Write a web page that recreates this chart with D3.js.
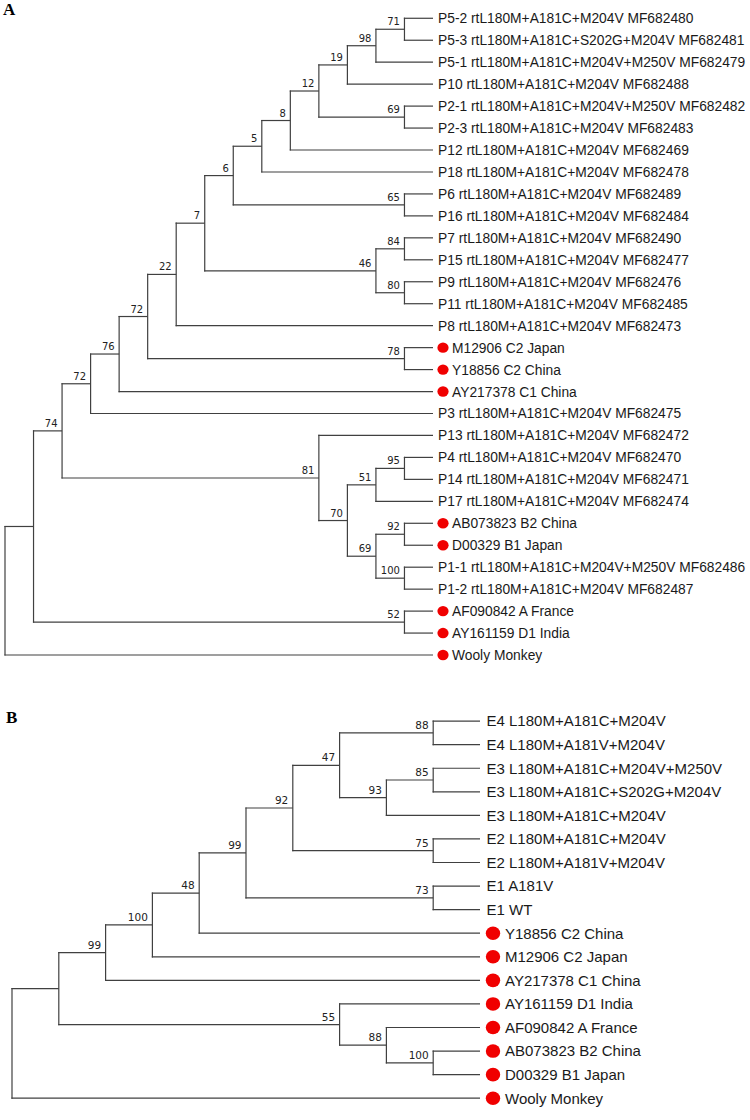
<!DOCTYPE html>
<html>
<head>
<meta charset="utf-8">
<script src="https://cdn.jsdelivr.net/npm/d3@7"></script>
<style>
html,body{margin:0;padding:0;background:#fff;}
svg{display:block;}
</style>
</head>
<body>
<svg id="chart" width="750" height="1120"></svg>
<script>
// ---------- Tree A data ----------
const leavesA = [
  "P5-2 rtL180M+A181C+M204V MF682480",
  "P5-3 rtL180M+A181C+S202G+M204V MF682481",
  "P5-1 rtL180M+A181C+M204V+M250V MF682479",
  "P10 rtL180M+A181C+M204V MF682488",
  "P2-1 rtL180M+A181C+M204V+M250V MF682482",
  "P2-3 rtL180M+A181C+M204V MF682483",
  "P12 rtL180M+A181C+M204V MF682469",
  "P18 rtL180M+A181C+M204V MF682478",
  "P6 rtL180M+A181C+M204V MF682489",
  "P16 rtL180M+A181C+M204V MF682484",
  "P7 rtL180M+A181C+M204V MF682490",
  "P15 rtL180M+A181C+M204V MF682477",
  "P9 rtL180M+A181C+M204V MF682476",
  "P11 rtL180M+A181C+M204V MF682485",
  "P8 rtL180M+A181C+M204V MF682473",
  "M12906 C2 Japan",
  "Y18856 C2 China",
  "AY217378 C1 China",
  "P3 rtL180M+A181C+M204V MF682475",
  "P13 rtL180M+A181C+M204V MF682472",
  "P4 rtL180M+A181C+M204V MF682470",
  "P14 rtL180M+A181C+M204V MF682471",
  "P17 rtL180M+A181C+M204V MF682474",
  "AB073823 B2 China",
  "D00329 B1 Japan",
  "P1-1 rtL180M+A181C+M204V+M250V MF682486",
  "P1-2 rtL180M+A181C+M204V MF682487",
  "AF090842 A France",
  "AY161159 D1 India",
  "Wooly Monkey"
];
// reference genotypes marked with a red dot
const refsA = [15, 16, 17, 23, 24, 27, 28, 29];
// topology (leaf indices) with bootstrap support values
const newickA = "(((((((((((((((0,1)71,2)98,3)19,(4,5)69)12,6)8,7)5,(8,9)65)6,((10,11)84,(12,13)80)46)7,14)22,(15,16)78)72,17)76,18)72,(19,(((20,21)95,22)51,((23,24)92,(25,26)100)69)70)81)74,(27,28)52),29)";

// ---------- Tree B data ----------
const leavesB = [
  "E4 L180M+A181C+M204V",
  "E4 L180M+A181V+M204V",
  "E3 L180M+A181C+M204V+M250V",
  "E3 L180M+A181C+S202G+M204V",
  "E3 L180M+A181C+M204V",
  "E2 L180M+A181C+M204V",
  "E2 L180M+A181V+M204V",
  "E1 A181V",
  "E1 WT",
  "Y18856 C2 China",
  "M12906 C2 Japan",
  "AY217378 C1 China",
  "AY161159 D1 India",
  "AF090842 A France",
  "AB073823 B2 China",
  "D00329 B1 Japan",
  "Wooly Monkey"
];
const refsB = [9, 10, 11, 12, 13, 14, 15, 16];
const newickB = "(((((((((0,1)88,((2,3)85,4)93)47,(5,6)75)92,(7,8)73)99,9)48,10)100,11)99,(12,(13,(14,15)100)88)55),16)";

const panelLabels = ["A", "B"];

// ---------- simple Newick parser ----------
function parseNewick(s) {
  let i = 0;
  function node() {
    const n = {};
    if (s[i] === "(") {
      i++;
      n.children = [];
      n.children.push(node());
      while (s[i] === ",") { i++; n.children.push(node()); }
      i++; // ')'
    }
    let tok = "";
    while (i < s.length && !",();".includes(s[i])) tok += s[i++];
    if (n.children) { if (tok !== "") n.support = tok; }
    else n.leaf = +tok;
    return n;
  }
  return node();
}

const svg = d3.select("#chart");

function drawTree(cfg) {
  const root = d3.hierarchy(parseNewick(cfg.newick));
  const cluster = d3.cluster()
    .size([cfg.y1 - cfg.y0, cfg.x1 - cfg.x0])
    .separation(() => 1);
  cluster(root);

  const xs = d3.scaleLinear().domain([0, cfg.x1 - cfg.x0]).range([cfg.x0, cfg.x1]);
  const ys = d3.scaleLinear().domain([0, cfg.y1 - cfg.y0]).range([cfg.y0, cfg.y1]);

  const g = svg.append("g");
  const stroke = "#404040";
  const sw = 1.2;

  // horizontal branches
  g.selectAll("line.h").data(root.descendants().filter(d => d.parent))
    .join("line").attr("class", "h")
    .attr("x1", d => xs(d.parent.y) - sw / 2).attr("x2", d => xs(d.y))
    .attr("y1", d => ys(d.x)).attr("y2", d => ys(d.x))
    .attr("stroke", stroke).attr("stroke-width", sw);

  // vertical connectors
  g.selectAll("line.v").data(root.descendants().filter(d => d.children))
    .join("line").attr("class", "v")
    .attr("x1", d => xs(d.y)).attr("x2", d => xs(d.y))
    .attr("y1", d => ys(d.children[0].x) - sw / 2)
    .attr("y2", d => ys(d.children[d.children.length - 1].x) + sw / 2)
    .attr("stroke", stroke).attr("stroke-width", sw);

  // bootstrap values
  g.selectAll("text.bs").data(root.descendants().filter(d => d.data.support))
    .join("text").attr("class", "bs")
    .attr("x", d => xs(d.y) - 4.5)
    .attr("y", d => ys(d.x) - 4)
    .attr("text-anchor", "end")
    .attr("font-family", "'DejaVu Sans', Verdana, sans-serif")
    .attr("font-size", cfg.bsSize)
    .attr("fill", "#222")
    .text(d => d.data.support);

  // leaves
  const leaves = root.leaves();
  const refSet = new Set(cfg.refs);
  g.selectAll("ellipse.dot").data(leaves.filter(d => refSet.has(d.data.leaf)))
    .join("ellipse").attr("class", "dot")
    .attr("cx", d => xs(d.y) + cfg.dotDx)
    .attr("cy", d => ys(d.x))
    .attr("rx", cfg.rx).attr("ry", cfg.ry)
    .attr("fill", "#f00000");

  g.selectAll("text.leaf").data(leaves)
    .join("text").attr("class", "leaf")
    .attr("x", d => xs(d.y) + (refSet.has(d.data.leaf) ? cfg.textDxDot : cfg.textDx))
    .attr("y", d => ys(d.x))
    .attr("dy", "0.36em")
    .attr("font-family", "'Liberation Sans', Arial, sans-serif")
    .attr("font-size", cfg.fontSize)
    .attr("fill", "#1a1a1a")
    .text(d => cfg.names[d.data.leaf]);

  svg.append("text")
    .attr("x", cfg.labelX).attr("y", cfg.labelY)
    .attr("font-family", "'Liberation Serif', 'Times New Roman', serif")
    .attr("font-weight", "bold")
    .attr("font-size", 17)
    .attr("fill", "#000")
    .text(cfg.label);
}

drawTree({
  newick: newickA, names: leavesA, refs: refsA, label: panelLabels[0],
  x0: 5, x1: 433, y0: 7.3, y1: 666,
  fontSize: 13.8, bsSize: 10,
  rx: 5.6, ry: 5.2, dotDx: 10, textDx: 5, textDxDot: 19,
  labelX: 3, labelY: 15
});

drawTree({
  newick: newickB, names: leavesB, refs: refsB, label: panelLabels[1],
  x0: 12, x1: 480, y0: 709.3, y1: 1110,
  fontSize: 15, bsSize: 10.5,
  rx: 7.2, ry: 6.8, dotDx: 13, textDx: 6.5, textDxDot: 25,
  labelX: 6, labelY: 723
});
</script>
</body>
</html>
